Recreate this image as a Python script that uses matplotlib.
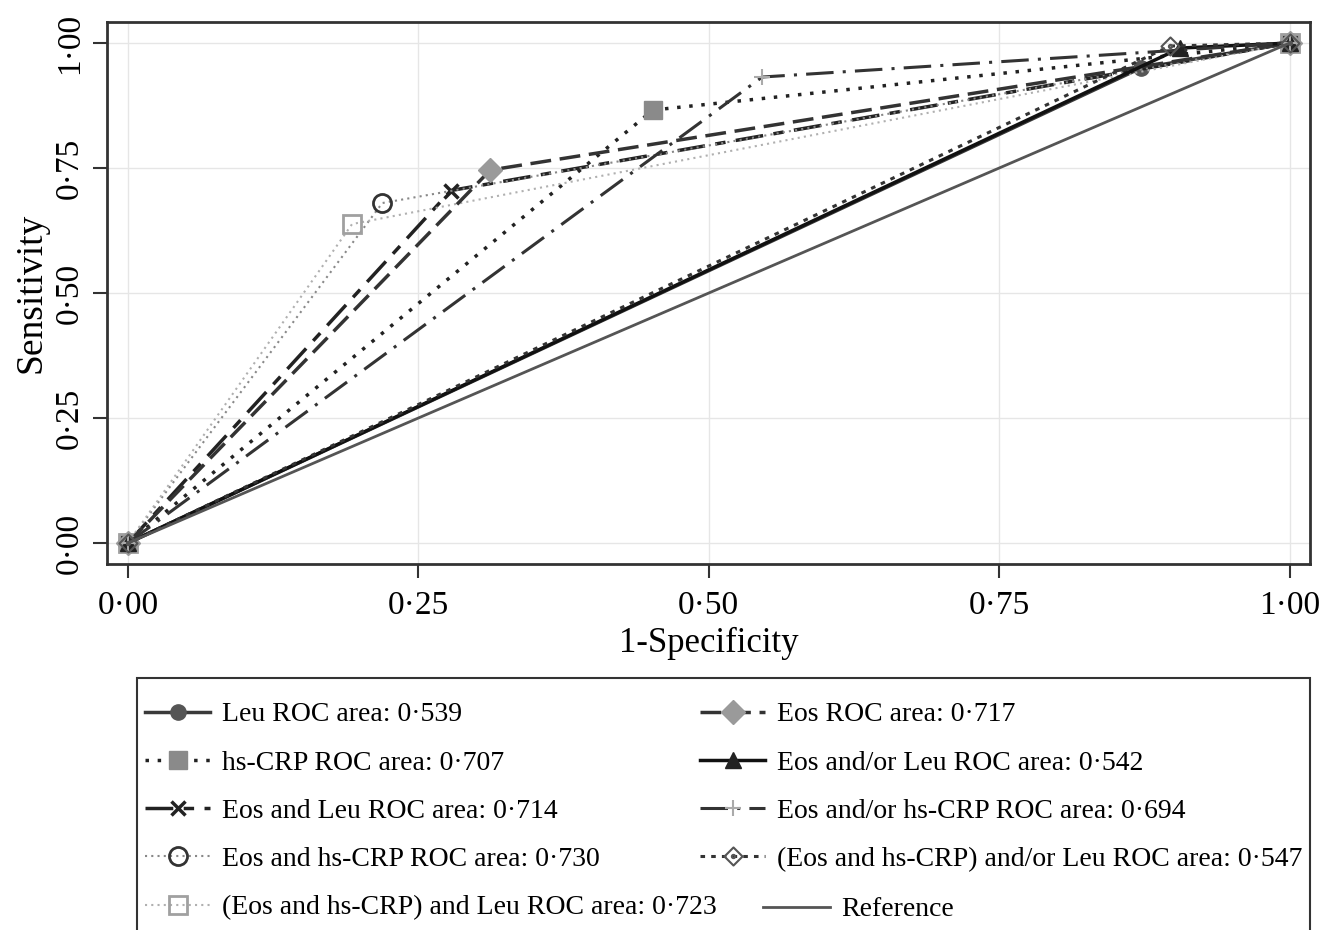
import numpy as np
import matplotlib
matplotlib.use('Agg')
import matplotlib.pyplot as plt
from matplotlib.path import Path
from matplotlib.patches import Rectangle

plt.rcParams['font.family'] = ['Liberation Serif', 'DejaVu Serif']

# ROC points (1-specificity, sensitivity)
leu_x = [0, 0.872, 1]
leu_y = [0, 0.950, 1]
crp_x = [0, 0.452, 1]
crp_y = [0, 0.866, 1]
eos_leu_x = [0, 0.278, 1]
eos_leu_y = [0, 0.705, 1]
eos_crp_x = [0, 0.219, 1]
eos_crp_y = [0, 0.680, 1]
eoscrp_and_leu_x = [0, 0.193, 1]
eoscrp_and_leu_y = [0, 0.638, 1]
eos_x = [0, 0.312, 1]
eos_y = [0, 0.746, 1]
eos_or_leu_x = [0, 0.906, 1]
eos_or_leu_y = [0, 0.990, 1]
eos_or_crp_x = [0, 0.546, 1]
eos_or_crp_y = [0, 0.932, 1]
eoscrp_or_leu_x = [0, 0.897, 1]
eoscrp_or_leu_y = [0, 0.994, 1]
ref_x = [0, 1]
ref_y = [0, 1]

labels = [
    'Leu ROC area: 0·539',
    'hs-CRP ROC area: 0·707',
    'Eos and Leu ROC area: 0·714',
    'Eos and hs-CRP ROC area: 0·730',
    '(Eos and hs-CRP) and Leu ROC area: 0·723',
    'Eos ROC area: 0·717',
    'Eos and/or Leu ROC area: 0·542',
    'Eos and/or hs-CRP ROC area: 0·694',
    '(Eos and hs-CRP) and/or Leu ROC area: 0·547',
    'Reference',
]
ticks = [0, 0.25, 0.5, 0.75, 1]
tick_labels = ['0·00', '0·25', '0·50', '0·75', '1·00']

# diamond with a dot in the middle
diamond = Path([(0, 1), (1, 0), (0, -1), (-1, 0), (0, 1)],
               [Path.MOVETO, Path.LINETO, Path.LINETO, Path.LINETO, Path.CLOSEPOLY])
dot = Path.circle((0, 0), 0.18)
dot_diamond = Path.make_compound_path(diamond, dot)

W, H = 1324, 930
fig = plt.figure(figsize=(W / 100, H / 100), dpi=100)
ax = fig.add_axes([0.0808, 0.3935, 0.909, 0.5828])

h = []
h += ax.plot(leu_x, leu_y, color='#3a3a3a', lw=2.5, ls='-',
             marker='o', ms=11, mfc='#555555', mec='#555555', label=labels[0])
h += ax.plot(crp_x, crp_y, color='#222222', lw=2.5, ls=(0, (1, 2.5)),
             marker='s', ms=13, mfc='#8a8a8a', mec='#8a8a8a', label=labels[1])
h += ax.plot(eos_leu_x, eos_leu_y, color='#222222', lw=2.5, ls=(0, (8, 3, 3, 3)),
             marker='x', ms=10, mew=2.5, mec='#222222', label=labels[2])
h += ax.plot(eos_crp_x, eos_crp_y, color='#888888', lw=1.5, ls=(0, (1, 2)),
             marker='o', ms=13, mfc='none', mec='#333333', mew=2, label=labels[3])
h += ax.plot(eoscrp_and_leu_x, eoscrp_and_leu_y, color='#b0b0b0', lw=1.5, ls=(0, (1, 2)),
             marker='s', ms=13, mfc='none', mec='#a0a0a0', mew=2, label=labels[4])
h += ax.plot(eos_x, eos_y, color='#333333', lw=2.5, ls=(0, (6, 2.5)),
             marker='D', ms=12, mfc='#9a9a9a', mec='#9a9a9a', label=labels[5])
h += ax.plot(eos_or_leu_x, eos_or_leu_y, color='#111111', lw=2.5, ls='-',
             marker='^', ms=12, mfc='#222222', mec='#222222', label=labels[6])
h += ax.plot(eos_or_crp_x, eos_or_crp_y, color='#333333', lw=2.2, ls=(0, (9, 3, 1, 3)),
             marker='+', ms=11, mew=1.5, mec='#aaaaaa', label=labels[7])
h += ax.plot(eoscrp_or_leu_x, eoscrp_or_leu_y, color='#333333', lw=2.2, ls=(0, (1.5, 2)),
             marker=dot_diamond, ms=13, mfc='none', mec='#555555', mew=1.5, label=labels[8])
h += ax.plot(ref_x, ref_y, color='#555555', lw=2, ls='-', label=labels[9])

ax.set_xlim(-0.018, 1.018)
ax.set_ylim(-0.042, 1.042)
ax.set_xticks(ticks)
ax.set_xticklabels(tick_labels, fontsize=24)
ax.set_yticks(ticks)
ax.set_yticklabels(tick_labels, fontsize=24, rotation=90, va='center')
ax.tick_params(direction='out', length=10, width=1.5, color='#333333')
ax.tick_params(axis='x', pad=9)
ax.tick_params(axis='y', pad=6)
ax.grid(True, color='#e6e6e6', lw=1)
ax.set_axisbelow(True)
for s in ax.spines.values():
    s.set_color('#333333')
    s.set_linewidth(2)

ax.set_xlabel('1-Specificity', fontsize=25, labelpad=4)
ax.set_ylabel('Sensitivity', fontsize=27, labelpad=4)

# legend: frame + three unframed legends placed by pixel position
fig.add_artist(Rectangle((137 / W, 1 - 935 / H), (1310 - 137) / W, (935 - 678) / H,
                         transform=fig.transFigure, fill=False,
                         edgecolor='#333333', lw=1.5))
leg_kw = dict(loc='upper left', fontsize=20, frameon=False, borderpad=0,
              borderaxespad=0, handlelength=2.35, handletextpad=0.43,
              labelspacing=0.82)
top = 1 - 702 / H
leg1 = fig.legend(handles=h[0:5], bbox_to_anchor=(145 / W, top), **leg_kw)
leg2 = fig.legend(handles=h[5:9], bbox_to_anchor=(700 / W, top), **leg_kw)
leg3 = fig.legend(handles=h[9:10], bbox_to_anchor=(763 / W, 1 - 897 / H),
                  **dict(leg_kw, handlelength=2.4))

fig.savefig('out.png', dpi=100)
